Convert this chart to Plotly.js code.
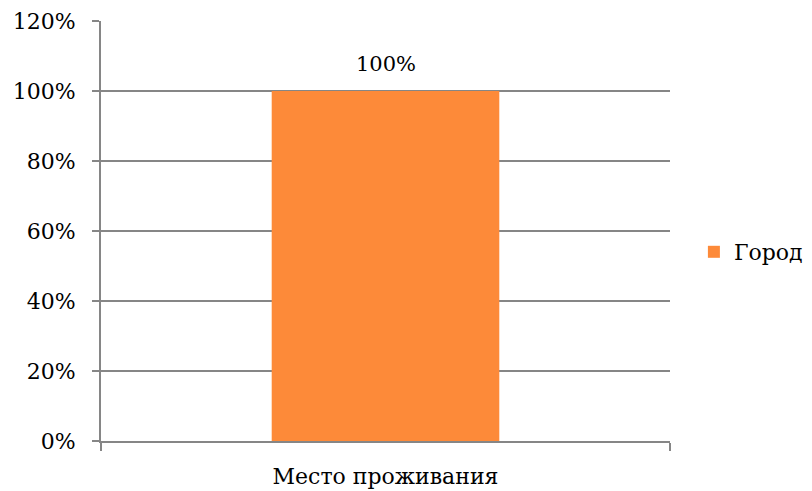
<!DOCTYPE html>
<html>
<head>
<meta charset="utf-8">
<script src="https://cdn.plot.ly/plotly-3.0.1.min.js"></script>
<style>html,body{margin:0;padding:0;background:#fff;}#chart{width:812px;height:491px;}</style>
</head>
<body>
<div id="chart"></div>
<script>
var categories = ["Место проживания"];
var seriesName = "Город";
var values = [1.0];
var valueLabels = ["100%"];

var gridColor = "#868686";
var fontFam = "DejaVu Serif, serif";

var data = [{
  type: "bar",
  x: categories,
  y: values,
  name: seriesName,
  marker: {color: "#FD8A39"},
  width: 0.4,
  showlegend: true
}];

var annotations = categories.map(function (c, i) {
  return {
    x: c, y: values[i], xref: "x", yref: "y",
    text: valueLabels[i], showarrow: false,
    yanchor: "bottom", yshift: 13,
    font: {family: fontFam, size: 21, color: "#000"}
  };
});

var layout = {
  width: 812, height: 491,
  margin: {l: 101, r: 142, t: 21, b: 50, autoexpand: false},
  paper_bgcolor: "#fff", plot_bgcolor: "#fff",
  font: {family: fontFam, size: 21, color: "#000"},
  showlegend: true,
  legend: {x: 1.042, xanchor: "left", y: 0.45, yanchor: "middle",
           font: {family: fontFam, size: 22, color: "#000"}},
  annotations: annotations,
  xaxis: {
    type: "category",
    range: [-0.5, 0.5],
    showline: true, linecolor: gridColor, linewidth: 2,
    ticks: "outside", tickson: "boundaries", ticklen: 8, tickwidth: 2, tickcolor: gridColor,
    ticklabelstandoff: 15,
    tickfont: {family: fontFam, size: 22, color: "#000"},
    showgrid: false, zeroline: false
  },
  yaxis: {
    range: [0, 1.2], dtick: 0.2, tick0: 0,
    tickformat: ".0%",
    showline: true, linecolor: gridColor, linewidth: 2,
    ticks: "outside", ticklen: 7, tickwidth: 2, tickcolor: gridColor,
    ticklabelstandoff: 12,
    tickfont: {family: fontFam, size: 22, color: "#000"},
    showgrid: true, gridcolor: gridColor, gridwidth: 2,
    zeroline: false
  }
};

Plotly.newPlot("chart", data, layout, {displayModeBar: false, staticPlot: true});
</script>
</body>
</html>
